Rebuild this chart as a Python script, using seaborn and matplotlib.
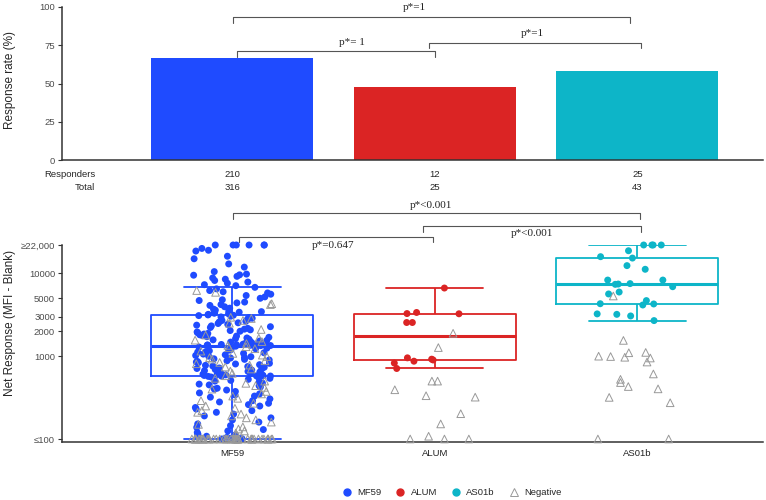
import numpy as np
import pandas as pd
import matplotlib
matplotlib.use("Agg")
import matplotlib.pyplot as plt
import matplotlib.transforms as mtransforms
from matplotlib.lines import Line2D
from matplotlib.ticker import NullLocator
import seaborn as sns

# ---- data ----
groups = ["MF59", "ALUM", "AS01b"]
responders = [210, 12, 25]
totals = [316, 25, 43]
colors = {"MF59": "#1F4BFF", "ALUM": "#DB2424", "AS01b": "#0DB5C8"}
neg_color = "#999999"

mf59_pos = [
    22000, 22000, 22000, 22000, 22000, 22000, 20000, 19000, 18600, 16100,
    15000, 13000, 11900, 10500, 9800, 9600, 9500, 9200, 8800, 8500,
    8200, 7850, 7600, 7300, 7100,
    6780, 6500, 6200, 6000, 5800, 5600, 5400, 5200, 5000, 4800,
    4700, 4500, 4400, 4200, 4100, 3950, 3800, 3700, 3600, 3500,
    3450, 3400, 3350, 3300, 3250, 3200, 3150,
    3120, 3090, 3040, 2980, 2930, 2870, 2810, 2760, 2700, 2640,
    2590, 2530, 2480, 2420, 2370, 2320, 2270, 2220, 2170, 2120,
    2080, 2040, 2000, 1960, 1920, 1880, 1850, 1810, 1780, 1750,
    1720, 1690, 1660, 1630, 1600, 1575, 1550, 1525, 1500, 1480,
    1460, 1440, 1425, 1410, 1395, 1385, 1375, 1365, 1360, 1355,
    1350, 1345, 1340,
    1320, 1290, 1270, 1250, 1230, 1200, 1180, 1160, 1140, 1120,
    1100, 1080, 1060, 1040, 1020, 1000, 985, 965, 950, 930,
    915, 900, 880, 865, 850, 835, 820, 805, 790, 775,
    760, 750, 735, 720, 710, 700, 690, 680, 668, 655,
    645, 635, 625, 615, 607, 600, 595, 590, 585, 581,
    578, 576, 574,
    570, 560, 550, 540, 525, 510, 500, 490, 475, 460,
    450, 440, 425, 410, 400, 390, 375, 360, 350, 340,
    330, 320, 305, 290, 280, 270, 260, 250, 240, 230,
    220, 210, 200, 190, 180, 170, 160, 152, 145, 138,
    130, 125, 120, 115, 112, 110, 108, 105, 103, 102,
    101, 100,
]
mf59_neg = [
    6200, 5900, 4300, 4200, 2950, 2850, 2700, 2500, 2100, 1800,
    1650, 1560, 1500, 1420, 1350, 1300, 1270, 1230, 1150, 1080,
    1030, 990, 960, 920, 880, 840, 810, 780, 740, 700,
    660, 620, 580, 540, 500, 470, 440, 420, 400, 375,
    350, 330, 310, 290, 270, 250, 235, 220, 210, 200,
    190, 180, 170, 160, 150, 140, 132, 125, 118, 112,
    100, 100, 100, 100, 100, 100, 100, 100, 100, 100,
    100, 100, 100, 100, 100, 100, 100, 100, 100, 100,
    100, 100, 100, 100, 100, 100, 100, 100, 100, 100,
    100, 100, 100, 100, 100, 100, 100, 100, 100, 100,
    100, 100, 100, 100, 100, 100,
]
alum_pos = [6650, 3270, 3370, 3250, 2550, 2550, 870, 900, 825, 710, 920, 955]
alum_neg = [1890, 1270, 500, 500, 393, 333, 320, 202, 152, 100, 100, 108, 100]
as01b_pos = [
    22000, 22000, 22000, 22000, 18760, 15900, 15300, 12400, 11200, 8300,
    7370, 8300, 7430, 7520, 6900, 5950, 5640, 4270, 4150, 4690,
    4300, 3060, 3240, 3200, 2690,
]
as01b_neg = [
    5330, 1550, 970, 1100, 1000, 950, 990, 1110, 850, 610,
    525, 480, 403, 430, 318, 274, 100, 100,
]

y_ticks = [100, 1000, 2000, 3000, 5000, 10000, 22000]
y_ticklabels = ["≤100", "1000", "2000", "3000", "5000", "10000", "≥22,000"]
rate_ticks = [0, 25, 50, 75, 100]
rate_pvals = ["p*=1", "p*= 1", "p*=1"]
resp_pvals = ["p*<0.001", "p*<0.001", "p*=0.647"]

# ---- tables ----
rate_df = pd.DataFrame({"group": groups, "rate": [100 * r / t for r, t in zip(responders, totals)]})
pos_df = pd.DataFrame({
    "group": ["MF59"] * len(mf59_pos) + ["ALUM"] * len(alum_pos) + ["AS01b"] * len(as01b_pos),
    "value": mf59_pos + alum_pos + as01b_pos,
})
neg_df = pd.DataFrame({
    "group": ["MF59"] * len(mf59_neg) + ["ALUM"] * len(alum_neg) + ["AS01b"] * len(as01b_neg),
    "value": mf59_neg + alum_neg + as01b_neg,
})

sns.set_theme(style="ticks")
plt.rcParams["font.family"] = ["Liberation Sans", "DejaVu Sans"]
SERIF = ["Liberation Serif", "DejaVu Serif"]
TICK_GREY = "#4d4d4d"
np.random.seed(3)

fig = plt.figure(figsize=(7.66, 5.0), dpi=100)
ax_top = fig.add_axes([0.081, 0.68, 0.915, 0.306])
ax_bot = fig.add_axes([0.081, 0.116, 0.915, 0.394])
XLIM = (-0.84, 2.62)


def bracket(ax, x1, x2, y, drop, text, tx, ty):
    trans = mtransforms.blended_transform_factory(ax.transData, ax.transAxes)
    ax.plot([x1, x1, x2, x2], [y - drop, y, y, y - drop], color="#555555", lw=0.8,
            transform=trans, clip_on=False)
    ax.text(tx, ty, text, transform=trans, ha="center", va="center", fontsize=8,
            family=SERIF, color="#222222")


# ---- top panel: response rate bars ----
sns.barplot(data=rate_df, x="group", y="rate", hue="group", palette=colors, order=groups,
            saturation=1, width=0.8, linewidth=0, legend=False, ax=ax_top)
ax_top.set_xlim(XLIM)
ax_top.set_ylim(0, 100)
ax_top.set_yticks(rate_ticks)
ax_top.set_xticks([])
ax_top.set_xlabel("")
ax_top.set_ylabel("")
sns.despine(ax=ax_top)

trans_top = mtransforms.blended_transform_factory(ax_top.transData, ax_top.transAxes)
ax_top.text(-0.677, -0.092, "Responders", transform=trans_top, ha="right", va="center", fontsize=6.8)
ax_top.text(-0.677, -0.183, "Total", transform=trans_top, ha="right", va="center", fontsize=6.8)
for i, (r, t) in enumerate(zip(responders, totals)):
    ax_top.text(i, -0.092, str(r), transform=trans_top, ha="center", va="center", fontsize=6.8)
    ax_top.text(i, -0.183, str(t), transform=trans_top, ha="center", va="center", fontsize=6.8)

bracket(ax_top, 0.005, 1.965, 0.935, 0.04, rate_pvals[0], 0.90, 1.0)
bracket(ax_top, 0.025, 1.0, 0.712, 0.04, rate_pvals[1], 0.59, 0.765)
bracket(ax_top, 0.97, 2.02, 0.763, 0.033, rate_pvals[2], 1.48, 0.827)

# ---- bottom panel: net response ----
# boxes on the linear scale (stats in linear space), axis switched to log afterwards
sns.boxplot(data=pos_df, x="group", y="value", hue="group", palette=colors, order=groups,
            saturation=1, width=0.8, fill=False, showfliers=False, linewidth=1.3,
            medianprops={"linewidth": 2.2}, capwidths=0.48, legend=False, ax=ax_bot)
sns.stripplot(data=pos_df, x="group", y="value", hue="group", palette=colors, order=groups,
              jitter=0.2, size=5, linewidth=0, legend=False, ax=ax_bot)
n_before = len(ax_bot.collections)
sns.stripplot(data=neg_df, x="group", y="value", order=groups, color="white", marker="^",
              jitter=0.2, size=5.5, edgecolor=neg_color, linewidth=0.7, ax=ax_bot)
for coll in ax_bot.collections[n_before:]:
    coll.set_facecolor("none")
    coll.set_edgecolor(neg_color)
for coll in ax_bot.collections:
    coll.set_clip_on(False)

ax_bot.set_yscale("log")
ax_bot.set_ylim(92, 22000)
ax_bot.set_xlim(XLIM)
ax_bot.set_yticks(y_ticks)
ax_bot.set_yticklabels(y_ticklabels)
ax_bot.yaxis.set_minor_locator(NullLocator())
ax_bot.set_xlabel("")
ax_bot.set_ylabel("")
sns.despine(ax=ax_bot)

bracket(ax_bot, 0.005, 2.015, 1.162, 0.03, resp_pvals[0], 0.98, 1.198)
bracket(ax_bot, 0.943, 2.02, 1.098, 0.03, resp_pvals[1], 1.48, 1.056)
bracket(ax_bot, 0.035, 0.99, 1.042, 0.028, resp_pvals[2], 0.50, 1.0)

for ax in (ax_top, ax_bot):
    for side in ("left", "bottom"):
        ax.spines[side].set_color("#333333")
        ax.spines[side].set_linewidth(1.1)
    ax.tick_params(axis="y", length=3, width=0.8, color="#333333", labelsize=6.8,
                   labelcolor=TICK_GREY, pad=2)
ax_bot.tick_params(axis="x", length=0, labelsize=6.8, labelcolor="#222222", pad=5)

fig.text(0.013, 1 - 80 / 500, "Response rate (%)", rotation=90, ha="center", va="center", fontsize=8.5)
fig.text(0.013, 1 - 323 / 500, "Net Response (MFI - Blank)", rotation=90, ha="center", va="center",
         fontsize=8.5)

handles = [Line2D([], [], ls="none", marker="o", markersize=5, color=colors[g]) for g in groups]
handles.append(Line2D([], [], ls="none", marker="^", markersize=5.5, markerfacecolor="none",
                      markeredgecolor=neg_color, markeredgewidth=0.7))
fig.legend(handles, groups + ["Negative"], loc="center", bbox_to_anchor=(0.589, 0.015), ncol=4,
           frameon=False, fontsize=6.8, handletextpad=0.5, columnspacing=1.4, handlelength=1.2)

fig.savefig("out.png", dpi=100)
